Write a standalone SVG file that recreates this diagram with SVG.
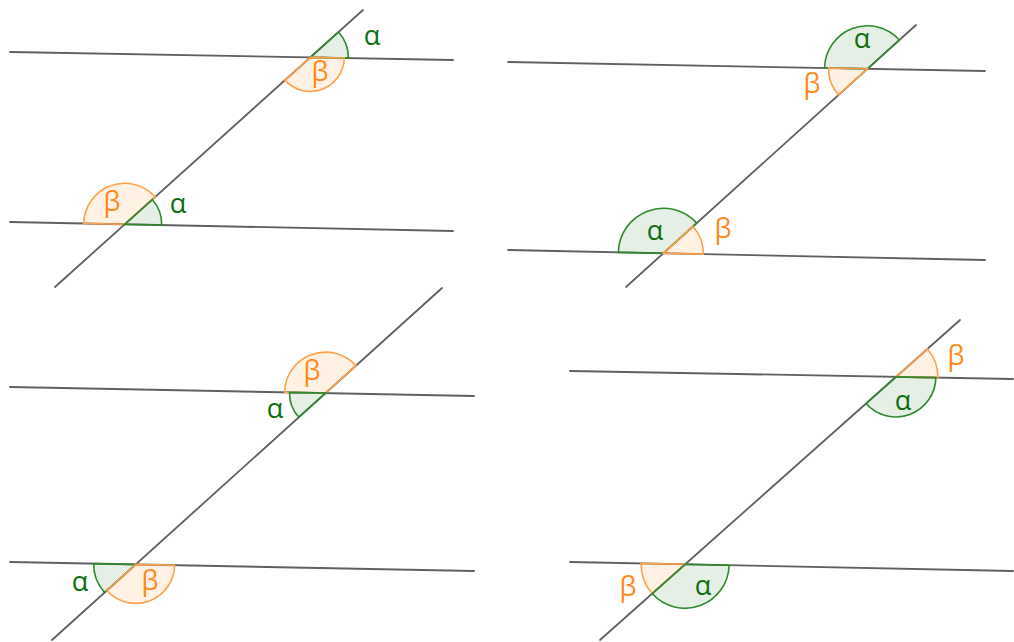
<svg xmlns="http://www.w3.org/2000/svg" width="1014" height="642" viewBox="0 0 1014 642">
<style>
.ln{stroke:#606060;stroke-width:1.8;fill:none;stroke-linecap:round}
.ga{fill:#006400;fill-opacity:0.1;stroke:#2f8a2f;stroke-width:1.6}
.ob{fill:#ff8000;fill-opacity:0.1;stroke:#ffa04a;stroke-width:1.6}
.ta{fill:#0e6e0e;font-family:"Open Sans",sans-serif;font-size:27px;text-anchor:middle}
.tb{fill:#ff8a1a;font-family:"Open Sans",sans-serif;font-size:27px;text-anchor:middle}
</style>
<rect width="1014" height="642" fill="#ffffff"/>
<g id="connectors">
<line class="ln" x1="10" y1="52" x2="453" y2="60"/>
<line class="ln" x1="10" y1="222" x2="453" y2="231"/>
<line class="ln" x1="55" y1="287" x2="363" y2="10"/>
<line class="ln" x1="508" y1="62" x2="985" y2="71"/>
<line class="ln" x1="508" y1="250" x2="985" y2="260"/>
<line class="ln" x1="626" y1="287" x2="916" y2="25"/>
<line class="ln" x1="10" y1="387" x2="474" y2="396"/>
<line class="ln" x1="10" y1="562" x2="474" y2="571"/>
<line class="ln" x1="52" y1="640" x2="442" y2="288"/>
<line class="ln" x1="570" y1="371" x2="1013" y2="379"/>
<line class="ln" x1="570" y1="562" x2="1013" y2="571"/>
<line class="ln" x1="600" y1="640" x2="960" y2="320"/>
</g>
<g id="panel1-top">
<path class="ga" d="M310.3,57.4 L338.56,31.99 A38,38 0 0 1 348.29,58.08 Z"/>
<path class="ob" d="M310.3,57.4 L344.29,58.01 A34,34 0 0 1 285.01,80.13 Z"/>
<text class="ta" x="372" y="45">α</text>
<text class="tb" x="320" y="81">β</text>
</g>
<g id="panel1-bottom">
<path class="ob" d="M124.7,224.3 L83.71,223.47 A41,41 0 0 1 155.19,196.89 Z"/>
<path class="ga" d="M124.7,224.3 L152.22,199.56 A37,37 0 0 1 161.69,225.05 Z"/>
<text class="tb" x="112" y="211">β</text>
<text class="ta" x="178" y="213">α</text>
</g>
<g id="panel2-top">
<path class="ga" d="M867.5,68.8 L824.51,67.99 A43,43 0 0 1 899.4,39.97 Z"/>
<path class="ob" d="M867.5,68.8 L838.57,94.95 A39,39 0 0 1 828.51,68.06 Z"/>
<text class="ta" x="862" y="48">α</text>
<text class="tb" x="812" y="93">β</text>
</g>
<g id="panel2-bottom">
<path class="ga" d="M663.3,253.3 L618.31,252.36 A45,45 0 0 1 696.69,223.13 Z"/>
<path class="ob" d="M663.3,253.3 L692.98,226.48 A40,40 0 0 1 703.29,254.14 Z"/>
<text class="ta" x="655" y="240">α</text>
<text class="tb" x="723" y="238">β</text>
</g>
<g id="panel3-top">
<path class="ob" d="M325.5,393.1 L284.51,392.31 A41,41 0 0 1 355.93,365.64 Z"/>
<path class="ga" d="M325.5,393.1 L298.78,417.21 A36,36 0 0 1 289.51,392.4 Z"/>
<text class="ta" x="275" y="418">α</text>
<text class="tb" x="312" y="380">β</text>
</g>
<g id="panel3-bottom">
<path class="ga" d="M135.7,564.4 L104.52,592.53 A42,42 0 0 1 93.71,563.59 Z"/>
<path class="ob" d="M135.7,564.4 L174.69,565.16 A39,39 0 0 1 106.75,590.52 Z"/>
<text class="ta" x="80" y="591">α</text>
<text class="tb" x="150" y="590">β</text>
</g>
<g id="panel4-top">
<path class="ob" d="M895.9,376.9 L927.29,349 A42,42 0 0 1 937.89,377.65 Z"/>
<path class="ga" d="M895.9,376.9 L935.89,377.62 A40,40 0 0 1 866,403.48 Z"/>
<text class="tb" x="956" y="365">β</text>
<text class="ta" x="903" y="410">α</text>
</g>
<g id="panel4-bottom">
<path class="ob" d="M685.1,564.3 L652.21,593.53 A44,44 0 0 1 641.11,563.41 Z"/>
<path class="ga" d="M685.1,564.3 L729.09,565.19 A44,44 0 0 1 652.21,593.53 Z"/>
<text class="tb" x="628" y="596">β</text>
<text class="ta" x="703" y="595">α</text>
</g>
</svg>
